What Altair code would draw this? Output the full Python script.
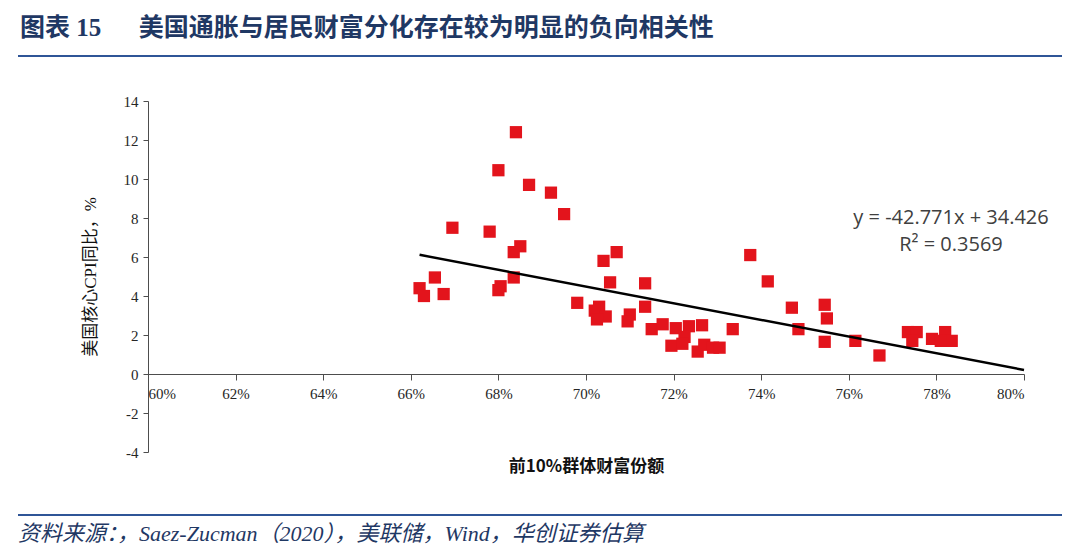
import altair as alt
import pandas as pd

# Top 10% wealth share (fraction) and US core CPI YoY (%)
share = [0.662, 0.663, 0.6655, 0.6675, 0.6695, 0.678, 0.680, 0.684, 0.687, 0.692,
         0.695, 0.685, 0.6835, 0.6835, 0.6805, 0.680, 0.698, 0.704, 0.707, 0.7055,
         0.7135, 0.703, 0.702, 0.7045, 0.7025, 0.710, 0.7095, 0.7135, 0.715, 0.7175,
         0.7205, 0.7235, 0.7265, 0.7225, 0.7195, 0.722, 0.7255, 0.727, 0.729, 0.7305,
         0.7335, 0.7375, 0.7415, 0.747, 0.7485, 0.7545, 0.755, 0.7545, 0.7615, 0.767,
         0.7735, 0.7755, 0.7745, 0.779, 0.782, 0.7835, 0.781]
cpi = [4.4, 4.0, 4.95, 4.1, 7.5, 7.3, 10.45, 12.4, 9.7, 9.3,
       8.2, 6.55, 6.25, 4.95, 4.5, 4.3, 3.65, 5.8, 6.25, 4.7,
       4.65, 3.45, 3.25, 2.95, 2.8, 3.05, 2.7, 3.45, 2.3, 2.55,
       2.35, 2.45, 2.5, 1.9, 1.45, 1.55, 1.15, 1.5, 1.35, 1.35,
       2.3, 6.1, 4.75, 3.4, 2.3, 3.55, 2.85, 1.65, 1.7, 0.95,
       2.15, 2.15, 1.7, 1.8, 2.15, 1.7, 1.7]

slope = -42.771
intercept = 34.426
r2 = 0.3569

x_ticks = [0.60, 0.62, 0.64, 0.66, 0.68, 0.70, 0.72, 0.74, 0.76, 0.78, 0.80]
y_ticks = [-4, -2, 0, 2, 4, 6, 8, 10, 12, 14]

title_text = "图表\u00a015\u2003\u00a0\u00a0美国通胀与居民财富分化存在较为明显的负向相关性"
footer_text = "资料来源：，Saez-Zucman（2020），美联储，Wind，华创证券估算"
x_title = "前10%群体财富份额"
y_title = "美国核心CPI同比，%"

W, H = 876, 351
CJK = "Liberation Serif, Noto Sans CJK SC"

df = pd.DataFrame({"share": share, "cpi": cpi})
trend_x = [min(share), 0.80]
trend_df = pd.DataFrame({"share": trend_x, "cpi": [slope * v + intercept for v in trend_x]})

x_enc = alt.X("share:Q",
              scale=alt.Scale(domain=[0.60, 0.80], nice=False, zero=False),
              axis=alt.Axis(values=x_ticks, format=".0%", title=x_title,
                            offset=-H * 4 / 18, grid=False, labelOverlap=False,
                            domainColor="#4d4d4d", tickColor="#4d4d4d", tickSize=6,
                            labelFont="Liberation Serif", labelFontSize=15, labelColor="#262626",
                            labelPadding=6,
                            titleFont="Noto Sans CJK SC", titleFontSize=17, titleFontWeight="bold",
                            titleColor="#111111", titlePadding=57))
y_enc = alt.Y("cpi:Q",
              scale=alt.Scale(domain=[-4, 14], nice=False, zero=False),
              axis=alt.Axis(values=y_ticks, tickCount=len(y_ticks), labelOverlap=False,
                            labelExpr="datum.value + ''",
                            title=y_title, grid=False,
                            domainColor="#4d4d4d", tickColor="#4d4d4d", tickSize=5,
                            labelFont="Liberation Serif", labelFontSize=15, labelColor="#262626",
                            labelPadding=5,
                            titleFont=CJK, titleFontSize=17, titleFontWeight="normal",
                            titleColor="#111111", titlePadding=24))

points = alt.Chart(df).mark_square(size=150, color="#E3141C", opacity=1).encode(x=x_enc, y=y_enc)

trend = alt.Chart(trend_df).mark_line(color="#000000", strokeWidth=2.5).encode(
    x="share:Q", y="cpi:Q")

eq_df = pd.DataFrame({"t": [f"y = {slope}x + {intercept}"]})
r2_df = pd.DataFrame({"t": [f"R² = {r2}"]})
eq1 = alt.Chart(eq_df).mark_text(font="Open Sans", fontSize=20, color="#404040",
                                 align="center", baseline="middle").encode(
    x=alt.value(803), y=alt.value(117), text="t:N")
eq2 = alt.Chart(r2_df).mark_text(font="Open Sans", fontSize=20, color="#404040",
                                 align="center", baseline="middle").encode(
    x=alt.value(803), y=alt.value(144), text="t:N")

title = alt.Chart(pd.DataFrame({"t": [title_text]})).mark_text(
    font=CJK, fontSize=25, fontWeight="bold", color="#1F3864",
    align="left", baseline="middle").encode(
    x=alt.value(-128), y=alt.value(-73), text="t:N")

footer = alt.Chart(pd.DataFrame({"t": [footer_text]})).mark_text(
    font=CJK, fontSize=22, fontStyle="italic", color="#1F3864",
    align="left", baseline="middle").encode(
    x=alt.value(-130), y=alt.value(433), text="t:N")

line_df = pd.DataFrame({"k": [1]})
top_rule = alt.Chart(line_df).mark_rule(color="#2F5597", strokeWidth=2).encode(
    x=alt.value(-130), x2=alt.value(914), y=alt.value(-45))
bottom_rule = alt.Chart(line_df).mark_rule(color="#2F5597", strokeWidth=2).encode(
    x=alt.value(-130), x2=alt.value(914), y=alt.value(414))

chart = alt.layer(points, trend, eq1, eq2, title, footer, top_rule, bottom_rule).properties(
    width=W, height=H,
    autosize=alt.AutoSizeParams(type="none"),
    padding={"left": 140, "top": 93, "right": 40, "bottom": 96},
    background="white",
).configure_view(stroke=None)

chart.save("out.html", embed_options={"renderer": "svg", "actions": False})
